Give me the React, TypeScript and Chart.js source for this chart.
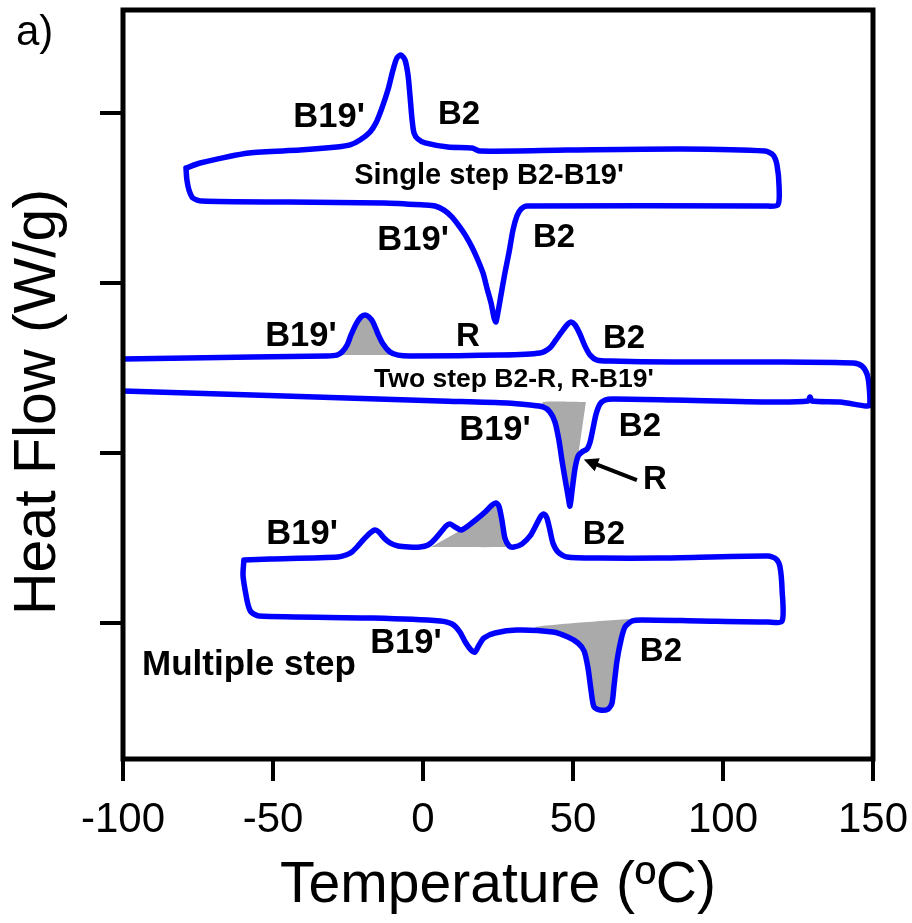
import React, { useEffect, useRef } from 'react';
import { Chart, registerables } from 'chart.js';

Chart.register(...registerables);

type Pt = [number, number];

// ---------- axes ----------
const temperatureTicks = [-100, -50, 0, 50, 100, 150];
const heatFlowTicks = [0, 1, 2, 3];

// ---------- single step loop (Temperature °C, Heat Flow W/g) ----------
const singleCooling: Pt[] = [
  [-79.0, 2.676], [-74.3, 2.706], [-58.0, 2.765], [-41.0, 2.782], [-28.7, 2.800], [-24.3, 2.812],
  [-21.0, 2.841], [-17.7, 2.888], [-15.7, 2.941], [-13.7, 3.029], [-11.7, 3.135], [-10.0, 3.253],
  [-8.7, 3.324], [-7.3, 3.341], [-6.0, 3.312], [-5.0, 3.224], [-4.3, 3.094], [-3.7, 2.971],
  [-3.0, 2.882], [-1.7, 2.847], [0.7, 2.824], [8.3, 2.800], [16.3, 2.794], [19.0, 2.776],
  [48.0, 2.782], [86.3, 2.788], [114.0, 2.776], [116.7, 2.753], [118.0, 2.694], [118.7, 2.565],
  [118.3, 2.459],
];
const singleHeating: Pt[] = [
  [114.0, 2.453], [34.7, 2.453], [32.7, 2.435], [31.3, 2.394], [30.0, 2.312], [28.7, 2.182],
  [27.3, 2.059], [26.0, 1.929], [25.0, 1.829], [24.3, 1.771], [23.7, 1.794], [22.7, 1.882],
  [21.3, 1.971], [20.0, 2.059], [18.0, 2.147], [16.3, 2.212], [14.3, 2.276], [12.3, 2.329],
  [9.7, 2.388], [7.0, 2.429], [4.0, 2.453], [0.3, 2.459], [-13.0, 2.471], [-44.7, 2.476],
  [-73.7, 2.482], [-76.7, 2.500], [-78.0, 2.547], [-78.7, 2.606], [-79.0, 2.676],
];

// ---------- two step loop ----------
const twoStepCooling: Pt[] = [
  [-104, 1.551], [-100, 1.553], [-56.7, 1.565], [-32.0, 1.571], [-28.7, 1.576], [-27.0, 1.594],
  [-25.3, 1.635], [-24.0, 1.694], [-22.3, 1.759], [-20.7, 1.800], [-19.3, 1.812], [-18.0, 1.800],
  [-16.7, 1.771], [-15.0, 1.700], [-13.3, 1.641], [-11.0, 1.594], [-8.3, 1.576], [-4.3, 1.571],
  [25.7, 1.576], [39.0, 1.588], [42.3, 1.618], [44.3, 1.665], [46.7, 1.724], [48.3, 1.759],
  [49.3, 1.771], [50.7, 1.753], [52.3, 1.700], [54.0, 1.629], [55.7, 1.576], [58.0, 1.547],
  [62.3, 1.541], [83.3, 1.535], [116.7, 1.535], [143.3, 1.529], [146.3, 1.512], [148.0, 1.465],
  [148.7, 1.394], [148.9, 1.282],
];
const twoStepHeating: Pt[] = [
  [147.7, 1.276], [139.0, 1.300], [129.7, 1.306], [129.0, 1.329], [128.3, 1.306], [116.7, 1.300],
  [83.3, 1.312], [63.3, 1.318], [60.7, 1.312], [59.0, 1.288], [57.7, 1.229], [56.7, 1.147],
  [55.7, 1.065], [54.7, 1.024], [53.0, 1.006], [51.7, 0.982], [50.7, 0.912], [49.7, 0.782],
  [49.0, 0.688], [48.3, 0.753], [47.3, 0.853], [46.3, 0.959], [45.3, 1.076], [44.0, 1.182],
  [42.3, 1.241], [40.0, 1.271], [35.7, 1.282], [28.0, 1.294], [5.7, 1.306], [-56.7, 1.341],
  [-100, 1.365], [-104, 1.367],
];

// ---------- multiple step loop ----------
const multiCooling: Pt[] = [
  [-59.7, 0.371], [-51.0, 0.376], [-28.3, 0.388], [-25.7, 0.400], [-23.7, 0.418], [-21.7, 0.453],
  [-19.7, 0.494], [-17.7, 0.529], [-16.0, 0.547], [-14.7, 0.535], [-13.0, 0.500], [-11.0, 0.471],
  [-8.3, 0.453], [-4.7, 0.447], [-1.0, 0.447], [1.7, 0.459], [3.7, 0.488], [5.7, 0.529],
  [7.7, 0.571], [9.0, 0.582], [10.7, 0.565], [12.7, 0.547], [15.0, 0.571], [18.0, 0.612],
  [20.7, 0.653], [23.0, 0.694], [24.3, 0.706], [25.3, 0.688], [26.3, 0.606], [27.3, 0.500],
  [28.7, 0.453], [30.3, 0.447], [33.0, 0.465], [35.7, 0.512], [37.7, 0.576], [39.3, 0.629],
  [40.3, 0.641], [41.3, 0.618], [42.3, 0.547], [43.3, 0.471], [45.0, 0.418], [48.0, 0.388],
  [59.0, 0.382], [79.0, 0.382], [115.0, 0.394], [117.7, 0.376], [119.0, 0.329], [119.7, 0.194],
  [119.7, 0.012],
];
const multiHeating: Pt[] = [
  [115.0, 0.006], [92.3, 0.012], [73.0, 0.018], [69.7, 0.012], [67.3, -0.024], [66.0, -0.100],
  [64.7, -0.218], [63.7, -0.365], [63.0, -0.471], [61.7, -0.506], [59.0, -0.512], [57.0, -0.494],
  [56.0, -0.394], [55.0, -0.265], [53.7, -0.165], [51.7, -0.118], [48.3, -0.082], [43.3, -0.053],
  [31.3, -0.041], [24.0, -0.059], [20.3, -0.088], [18.7, -0.129], [17.3, -0.171], [16.0, -0.159],
  [14.3, -0.118], [12.3, -0.053], [9.7, -0.006], [5.7, 0.012], [-16.7, 0.029], [-54.7, 0.041],
  [-57.3, 0.065], [-58.3, 0.106], [-59.3, 0.194], [-60.0, 0.282], [-59.7, 0.371],
];

// ---------- shaded peak areas: branch slice [from, to] closed by baseline points ----------
const twoStepCoolShadeRange = [-28.7, -8.3];
const twoStepCoolShadeBase: Pt[] = [];
const twoStepHeatShadeRange = [40.0, 51.7];
const twoStepHeatShadeBase: Pt[] = [[40.0, 1.300], [54.3, 1.300]];
const multiCoolShadeRange = [12.7, 28.7];
const multiCoolShadeBase: Pt[] = [[28.7, 0.447], [2.7, 0.447]];
const multiHeatShadeRange = [43.3, 69.7];
const multiHeatShadeBase: Pt[] = [[37.3, -0.024], [72.3, 0.029]];

// ---------- text annotations (Temperature, Heat Flow) ----------
const annotationText = [
  "B19'", 'B2', 'Single step B2-B19\'', "B19'", 'B2',
  "B19'", 'R', 'B2', "Two step B2-R, R-B19'", "B19'", 'B2', 'R',
  "B19'", 'B2', "B19'", 'B2', 'Multiple step',
];
const annotationT = [-31.3, 12.0, 22.0, -3.3, 43.7, -40.7, 15.0, 67.0, 30.3, 24.0, 72.3, 77.3, -40.3, 60.3, -5.7, 79.3, -58.0];
const annotationHF = [2.976, 2.988, 2.629, 2.253, 2.265, 1.688, 1.682, 1.671, 1.429, 1.135, 1.153, 0.841, 0.518, 0.518, -0.118, -0.171, -0.247];
const annotationSize = [34.5, 33, 29, 34.5, 33, 34.5, 33, 33, 26.5, 34.5, 33, 33, 34.5, 33, 34.5, 33, 35];
// arrow pointing to R shoulder: [tail, tip]
const arrowPts: Pt[] = [[71.3, 0.841], [53.6, 0.962]];

const FONT = "'Liberation Sans', Arial, Helvetica, sans-serif";
const BLUE = '#0000ff';
const GRAY = '#aaaaaa';

const toXY = (pts: Pt[]) => pts.map(([x, y]) => ({ x, y }));
const shade = (branch: Pt[], range: number[], base: Pt[]) =>
  toXY([...branch.filter(([x]) => x >= range[0] && x <= range[1]), ...base]);

export default function App() {
  const ref = useRef<HTMLCanvasElement | null>(null);

  useEffect(() => {
    const canvas = ref.current;
    if (!canvas) return;

    const loopDs = (pts: Pt[]) => ({
      data: toXY(pts),
      showLine: true,
      borderColor: BLUE,
      borderWidth: 5.5,
      pointRadius: 0,
      tension: 0.25,
      borderJoinStyle: 'round' as const,
      borderCapStyle: 'round' as const,
      fill: false,
      order: 0,
    });
    const shadeDs = (pts: { x: number; y: number }[]) => ({
      data: pts,
      showLine: true,
      borderWidth: 0,
      borderColor: 'rgba(0,0,0,0)',
      backgroundColor: GRAY,
      pointRadius: 0,
      tension: 0.25,
      fill: 'shape' as const,
      order: 5,
    });

    const framePlugin = {
      id: 'frameAndText',
      afterDraw(chart: any) {
        const { ctx, chartArea, scales } = chart;
        const xs = scales.x;
        const ys = scales.y;
        ctx.save();
        // annotations
        ctx.fillStyle = '#000';
        ctx.textAlign = 'center';
        ctx.textBaseline = 'middle';
        annotationText.forEach((t, i) => {
          ctx.font = `bold ${annotationSize[i]}px ${FONT}`;
          ctx.fillText(t, xs.getPixelForValue(annotationT[i]), ys.getPixelForValue(annotationHF[i]));
        });
        // arrow
        const x0 = xs.getPixelForValue(arrowPts[0][0]);
        const y0 = ys.getPixelForValue(arrowPts[0][1]);
        const x1 = xs.getPixelForValue(arrowPts[1][0]);
        const y1 = ys.getPixelForValue(arrowPts[1][1]);
        const ang = Math.atan2(y1 - y0, x1 - x0);
        const head = 16;
        ctx.strokeStyle = '#000';
        ctx.lineWidth = 4;
        ctx.beginPath();
        ctx.moveTo(x0, y0);
        ctx.lineTo(x1 - Math.cos(ang) * head * 0.8, y1 - Math.sin(ang) * head * 0.8);
        ctx.stroke();
        ctx.beginPath();
        ctx.moveTo(x1, y1);
        ctx.lineTo(x1 - head * Math.cos(ang - 0.45), y1 - head * Math.sin(ang - 0.45));
        ctx.lineTo(x1 - head * Math.cos(ang + 0.45), y1 - head * Math.sin(ang + 0.45));
        ctx.closePath();
        ctx.fill();
        // frame
        ctx.lineWidth = 5;
        ctx.strokeStyle = '#000';
        ctx.lineJoin = 'miter';
        ctx.strokeRect(chartArea.left, chartArea.top, chartArea.right - chartArea.left, chartArea.bottom - chartArea.top);
        // y-axis title
        ctx.save();
        ctx.translate(39, 402);
        ctx.rotate(-Math.PI / 2);
        ctx.font = `59px ${FONT}`;
        ctx.textAlign = 'center';
        ctx.textBaseline = 'middle';
        ctx.fillText('Heat Flow (W/g)', 0, 0);
        ctx.restore();
        // panel label
        ctx.font = `42px ${FONT}`;
        ctx.textAlign = 'left';
        ctx.textBaseline = 'middle';
        ctx.fillText('a)', 16, 33);
        ctx.restore();
      },
    };

    const chart = new Chart(canvas, {
      type: 'scatter',
      data: {
        datasets: [
          loopDs([...singleCooling, ...singleHeating]),
          loopDs([...twoStepCooling, ...twoStepHeating]),
          loopDs([...multiCooling, ...multiHeating]),
          shadeDs(shade(twoStepCooling, twoStepCoolShadeRange, twoStepCoolShadeBase)),
          shadeDs(shade(twoStepHeating, twoStepHeatShadeRange, twoStepHeatShadeBase)),
          shadeDs(shade(multiCooling, multiCoolShadeRange, multiCoolShadeBase)),
          shadeDs(shade(multiHeating, multiHeatShadeRange, multiHeatShadeBase)),
        ] as any,
      },
      options: {
        responsive: false,
        animation: false,
        devicePixelRatio: 1,
        layout: { padding: { left: 0, top: 10, right: 39, bottom: 0 } },
        plugins: { legend: { display: false }, tooltip: { enabled: false } },
        scales: {
          x: {
            type: 'linear',
            min: -100,
            max: 150,
            afterBuildTicks: (s: any) => {
              s.ticks = temperatureTicks.map((v) => ({ value: v }));
            },
            afterFit: (s: any) => {
              s.height = 164;
              s.paddingLeft = 0;
              s.paddingRight = 0;
            },
            grid: {
              drawOnChartArea: false,
              drawTicks: true,
              tickLength: 22,
              tickWidth: 4,
              tickColor: '#000',
              color: '#000',
              lineWidth: 4,
            },
            border: { display: false },
            ticks: {
              color: '#000',
              font: { family: FONT, size: 42 },
              padding: 14,
              maxRotation: 0,
              autoSkip: false,
              callback: (v: any) => String(v),
            },
            title: {
              display: true,
              text: 'Temperature (ºC)',
              color: '#000',
              font: { family: FONT, size: 57, lineHeight: 1 },
              padding: { top: 0, bottom: 8 },
            },
          },
          y: {
            type: 'linear',
            min: -0.8,
            max: 3.606,
            afterBuildTicks: (s: any) => {
              s.ticks = heatFlowTicks.map((v) => ({ value: v }));
            },
            afterFit: (s: any) => {
              s.width = 123;
              s.paddingTop = 0;
              s.paddingBottom = 0;
            },
            grid: {
              drawOnChartArea: false,
              drawTicks: true,
              tickLength: 23,
              tickWidth: 4,
              tickColor: '#000',
              color: '#000',
              lineWidth: 4,
            },
            border: { display: false },
            ticks: { display: false },
          },
        },
      } as any,
      plugins: [framePlugin],
    });

    return () => chart.destroy();
  }, []);

  return (
    <div style={{ position: 'fixed', left: 0, top: 0, width: 912, height: 923, background: '#fff' }}>
      <canvas ref={ref} width={912} height={923} style={{ display: 'block' }} />
    </div>
  );
}
